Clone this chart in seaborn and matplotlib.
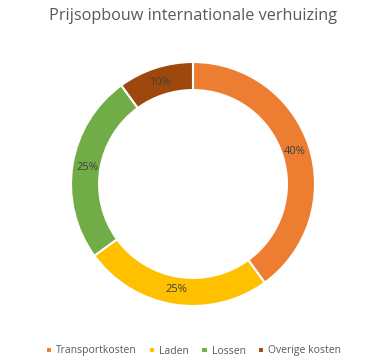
import matplotlib.pyplot as plt
import seaborn as sns

# Data
categories = ['Transportkosten', 'Laden', 'Lossen', 'Overige kosten']
shares = [40, 25, 25, 10]
colors = ['#ED7D31', '#FFC000', '#70AD47', '#9E480E']

sns.set_theme(style='white')
plt.rcParams['font.family'] = ['Open Sans', 'DejaVu Sans']

fig = plt.figure(figsize=(3.87, 3.64), dpi=100)
ax = fig.add_axes([71 / 387, 58 / 364, 244 / 387, 244 / 364])

wedges, texts, autotexts = ax.pie(
    shares, colors=sns.color_palette(colors), startangle=90, counterclock=False,
    autopct='%1.0f%%', pctdistance=0.875, radius=1,
    wedgeprops=dict(width=0.23, edgecolor='white', linewidth=1.5),
    textprops=dict(color='#404040', fontsize=8),
)
ax.set_xlim(-1, 1)
ax.set_ylim(-1, 1)
ax.set_aspect('equal')

fig.text(0.5, 1 - 16 / 364, 'Prijsopbouw internationale verhuizing',
         ha='center', va='center', fontsize=11.7, color='#595959')

fig.legend(wedges, categories, loc='center', bbox_to_anchor=(0.5, 1 - 351 / 364),
           ncol=4, frameon=False, fontsize=7.5, labelcolor='#595959',
           handlelength=0.6, handleheight=0.6, handletextpad=0.4, columnspacing=1.15)

fig.savefig('out.png', dpi=100)
